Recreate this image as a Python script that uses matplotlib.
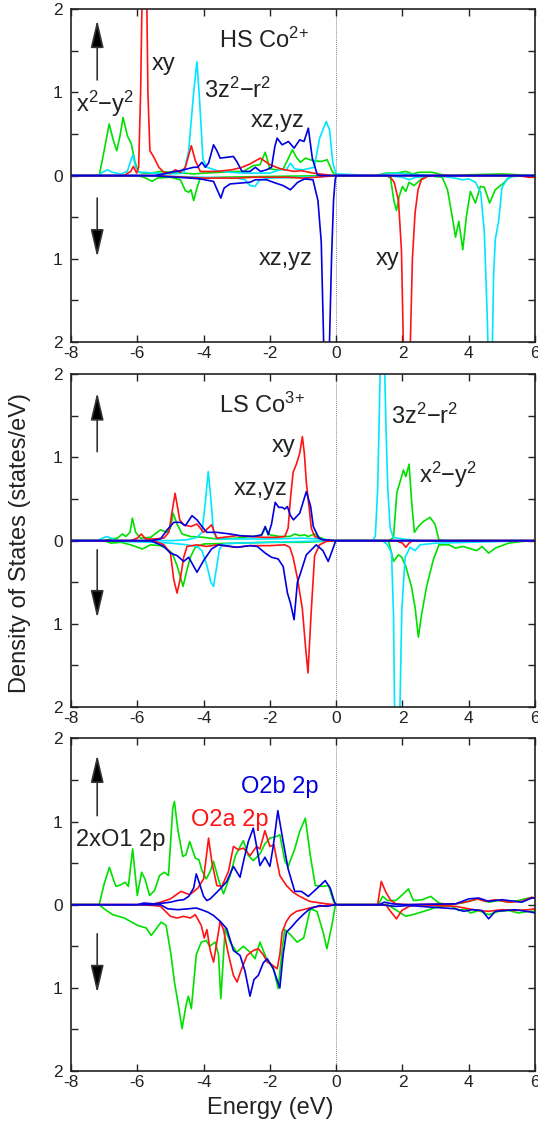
import numpy as np
import matplotlib
matplotlib.use('Agg')
import matplotlib.pyplot as plt
from matplotlib.ticker import MultipleLocator, FuncFormatter

plt.rcParams['font.family'] = ['Liberation Sans', 'DejaVu Sans']
plt.rcParams['mathtext.default'] = 'regular'
plt.rcParams['axes.unicode_minus'] = False

# ---- HS Co2+ : (energy eV, DOS) points, spin up positive, spin down negative
hs_x2y2_up = [(-8, 0), (-7.15, 0), (-7.0, 0.3), (-6.85, 0.62), (-6.72, 0.42), (-6.62, 0.3), (-6.52, 0.48),
              (-6.43, 0.70), (-6.3, 0.48), (-6.18, 0.38), (-6.08, 0.18), (-5.98, 0.05), (-5.85, 0.03),
              (-5.6, 0.03), (-5.3, 0.05), (-5.0, 0.04), (-4.6, 0.03), (-4.3, 0.02), (-4.0, 0.03), (-3.5, 0.04),
              (-3.0, 0.05), (-2.8, 0.05), (-2.5, 0.12), (-2.3, 0.13), (-2.14, 0.28), (-2.0, 0.08), (-1.8, 0.07),
              (-1.6, 0.08), (-1.45, 0.2), (-1.32, 0.31), (-1.2, 0.22), (-1.08, 0.16), (-0.93, 0.21), (-0.7, 0.18),
              (-0.45, 0.17), (-0.27, 0.19), (-0.12, 0.05), (0, 0), (1.2, 0), (1.5, 0.03), (1.8, 0.03), (2.1, 0.05),
              (2.3, 0.02), (2.5, 0.04), (2.9, 0.04), (3.2, 0.01), (3.5, 0), (4.0, 0.01), (5.0, 0.02), (6, 0)]
hs_x2y2_dn = [(-8, 0), (-6.0, 0), (-5.8, -0.02), (-5.55, -0.07), (-5.4, -0.03), (-5.0, -0.02), (-4.7, -0.05),
              (-4.55, -0.18), (-4.45, -0.2), (-4.38, -0.17), (-4.3, -0.3), (-4.2, -0.15), (-4.1, -0.03),
              (-3.5, -0.02), (-2.0, -0.01), (0, 0), (1.5, 0), (1.64, -0.03), (1.74, -0.3), (1.82, -0.42),
              (1.9, -0.25), (2.0, -0.13), (2.1, -0.19), (2.2, -0.08), (2.35, -0.12), (2.6, -0.03), (2.8, 0),
              (3.2, -0.02), (3.36, -0.17), (3.5, -0.49), (3.6, -0.74), (3.7, -0.55), (3.82, -0.89), (3.93, -0.49),
              (4.05, -0.19), (4.2, -0.33), (4.35, -0.13), (4.47, -0.14), (4.63, -0.33), (4.8, -0.17),
              (5.05, -0.09), (5.25, -0.01), (6, 0)]
hs_3z2_up = [(-8, 0), (-7.2, 0), (-7.05, 0.04), (-6.9, 0.07), (-6.75, 0.04), (-6.5, 0.02), (-6.3, 0.05),
             (-6.2, 0.18), (-6.13, 0.25), (-6.05, 0.1), (-5.95, 0.04), (-5.8, 0.04), (-5.5, 0.03), (-5.0, 0.02),
             (-4.6, 0.03), (-4.45, 0.3), (-4.3, 1.0), (-4.2, 1.37), (-4.12, 0.9), (-4.02, 0.2), (-3.9, 0.1),
             (-3.6, 0.06), (-3.2, 0.04), (-2.8, 0.03), (-2.4, 0.03), (-2.0, 0.03), (-1.7, 0.07), (-1.5, 0.07),
             (-1.38, 0.15), (-1.25, 0.08), (-1.0, 0.07), (-0.66, 0.1), (-0.5, 0.45), (-0.3, 0.65), (-0.2, 0.55),
             (-0.1, 0.15), (0, 0.02), (1.2, 0), (1.5, 0.02), (1.9, 0.03), (2.1, 0.02), (2.5, 0.01), (3, 0), (6, 0)]
hs_3z2_dn = [(-8, 0), (-6, 0), (-5.0, -0.01), (-4.0, -0.02), (-3.0, -0.03), (-2.75, -0.05), (-2.6, -0.12),
             (-2.45, -0.13), (-2.3, -0.05), (-2.0, -0.03), (-1.0, -0.02), (0, 0), (1.5, 0), (2.0, -0.02),
             (2.2, -0.05), (2.4, -0.02), (3.0, 0), (3.6, -0.03), (3.8, -0.05), (4.0, -0.04), (4.2, -0.08),
             (4.36, -0.2), (4.47, -0.68), (4.55, -1.6), (4.6, -2.3), (4.7, -2.3), (4.75, -1.2), (4.8, -0.77),
             (4.9, -0.55), (5.0, -0.15), (5.15, -0.04), (5.4, 0), (6, 0)]
hs_xy_up = [(-8, 0), (-6.4, 0), (-6.2, 0.05), (-6.12, 0.11), (-6.02, 0.03), (-5.96, 0.1), (-5.9, 1.0),
            (-5.85, 2.3), (-5.72, 2.3), (-5.68, 1.0), (-5.62, 0.3), (-5.5, 0.22), (-5.35, 0.1), (-5.2, 0.04),
            (-5.0, 0.03), (-4.85, 0.07), (-4.7, 0.04), (-4.55, 0.1), (-4.37, 0.36), (-4.25, 0.18), (-4.1, 0.05),
            (-3.9, 0.05), (-3.6, 0.05), (-3.14, 0.07), (-2.84, 0.1), (-2.6, 0.14), (-2.29, 0.21), (-1.99, 0.13),
            (-1.67, 0.08), (-1.27, 0.05), (-1.05, 0.06), (-0.7, 0.03), (-0.3, 0.01), (0, 0), (6, 0)]
hs_xy_dn = [(-8, 0), (-5.5, 0), (-5.0, -0.01), (-4.5, -0.02), (-4.0, -0.03), (-3.5, -0.03), (-3.0, -0.03),
            (-2.5, -0.02), (-2.0, -0.02), (-1.5, -0.02), (-1.0, -0.03), (-0.6, -0.02), (-0.3, -0.01), (0, 0),
            (1.6, 0), (1.75, -0.08), (1.88, -0.3), (1.97, -0.9), (2.04, -2.3), (2.22, -2.3), (2.3, -1.0),
            (2.38, -0.45), (2.47, -0.17), (2.57, -0.05), (2.8, 0), (5.5, 0), (5.8, -0.02), (6, -0.02)]
hs_xz_up = [(-8, 0), (-5.5, 0), (-5.2, 0.02), (-5.0, 0.04), (-4.7, 0.06), (-4.5, 0.08), (-4.3, 0.1),
            (-4.18, 0.1), (-4.05, 0.16), (-3.95, 0.1), (-3.85, 0.15), (-3.7, 0.37), (-3.6, 0.3), (-3.5, 0.21),
            (-3.3, 0.22), (-3.1, 0.23), (-3.0, 0.17), (-2.84, 0.05), (-2.6, 0.05), (-2.44, 0.1), (-2.28, 0.05),
            (-2.1, 0.07), (-1.95, 0.1), (-1.85, 0.35), (-1.78, 0.45), (-1.63, 0.37), (-1.44, 0.41),
            (-1.27, 0.33), (-1.1, 0.43), (-0.97, 0.41), (-0.84, 0.57), (-0.72, 0.21), (-0.57, 0.01),
            (-0.45, 0), (6, 0)]
hs_xz_dn = [(-8, 0), (-5.5, 0), (-5.2, -0.01), (-4.8, -0.02), (-4.4, -0.03), (-4.1, -0.04), (-3.7, -0.07),
            (-3.58, -0.18), (-3.48, -0.27), (-3.38, -0.15), (-3.2, -0.1), (-2.9, -0.09), (-2.6, -0.08),
            (-2.44, -0.05), (-2.1, -0.05), (-1.9, -0.08), (-1.6, -0.12), (-1.38, -0.17), (-1.16, -0.08),
            (-0.95, -0.04), (-0.7, -0.05), (-0.55, -0.3), (-0.45, -0.8), (-0.36, -2.3), (-0.22, -2.3),
            (-0.14, -1.0), (-0.08, -0.3), (-0.03, -0.05), (0, 0), (6, 0)]

# ---- LS Co3+
ls_x2y2_up = [(-8, 0), (-7.0, 0), (-6.8, 0.02), (-6.6, 0.03), (-6.45, 0.08), (-6.35, 0.05), (-6.22, 0.1),
              (-6.15, 0.27), (-6.05, 0.1), (-5.9, 0.03), (-5.6, 0.04), (-5.3, 0.13), (-5.1, 0.1), (-5.0, 0.15),
              (-4.92, 0.33), (-4.8, 0.2), (-4.65, 0.08), (-4.4, 0.05), (-4.0, 0.04), (-3.6, 0.02), (-3.0, 0.03),
              (-2.6, 0.05), (-2.25, 0.06), (-2.14, 0.15), (-2.0, 0.07), (-1.7, 0.05), (-1.4, 0.05),
              (-1.25, 0.08), (-1.1, 0.06), (-0.95, 0.07), (-0.85, 0.05), (-0.65, 0.08), (-0.5, 0.04),
              (-0.3, 0.01), (0, 0), (1.4, 0), (1.6, 0.0), (1.73, 0.04), (1.83, 0.58), (1.93, 0.71),
              (2.03, 0.85), (2.1, 0.77), (2.2, 0.92), (2.28, 0.45), (2.36, 0.1), (2.48, 0.17), (2.63, 0.23),
              (2.83, 0.28), (2.98, 0.2), (3.1, 0.01), (3.3, 0), (6, 0)]
ls_x2y2_dn = [(-8, 0), (-7.0, 0), (-6.8, -0.03), (-6.5, -0.02), (-6.2, -0.05), (-5.85, -0.1), (-5.6, -0.05),
              (-5.3, -0.06), (-5.1, -0.1), (-4.95, -0.15), (-4.8, -0.3), (-4.62, -0.55), (-4.5, -0.35),
              (-4.4, -0.2), (-4.25, -0.08), (-4.0, -0.04), (-3.0, -0.03), (-2.0, -0.02), (-1.0, -0.02), (0, 0),
              (1.45, 0), (1.58, 0), (1.73, -0.25), (1.88, -0.17), (1.98, -0.2), (2.1, -0.31), (2.27, -0.55),
              (2.38, -0.8), (2.48, -1.16), (2.58, -0.88), (2.73, -0.55), (2.93, -0.23), (3.1, -0.05),
              (3.4, -0.05), (3.6, -0.09), (3.82, -0.07), (4.0, -0.09), (4.24, -0.12), (4.4, -0.07),
              (4.6, -0.15), (4.8, -0.09), (5.2, -0.03), (5.6, -0.01), (6, 0)]
ls_3z2_up = [(-8, 0), (-7.2, 0), (-7.05, 0.03), (-6.92, 0.05), (-6.8, 0.03), (-6.6, 0), (-5.0, 0),
             (-4.5, 0.01), (-4.2, 0.04), (-4.05, 0.1), (-3.95, 0.45), (-3.86, 0.83), (-3.78, 0.5), (-3.7, 0.1),
             (-3.6, 0.02), (-2.0, 0.02), (-1.0, 0.03), (-0.5, 0.02), (0, 0), (1.1, 0), (1.18, 0.05),
             (1.25, 0.6), (1.3, 1.5), (1.34, 2.3), (1.45, 2.3), (1.5, 1.4), (1.56, 0.6), (1.63, 0.15),
             (1.72, 0.04), (2.0, 0.02), (2.5, 0), (6, 0)]
ls_3z2_dn = [(-8, 0), (-7.0, 0), (-6.5, -0.01), (-5.5, -0.02), (-5.0, -0.03), (-4.5, -0.05), (-4.2, -0.07),
             (-4.05, -0.12), (-3.9, -0.3), (-3.78, -0.5), (-3.7, -0.55), (-3.62, -0.35), (-3.52, -0.1),
             (-3.4, -0.04), (-3.0, -0.03), (-2.0, -0.02), (-1.0, -0.01), (0, 0), (1.4, 0), (1.55, -0.05),
             (1.67, -0.15), (1.73, -0.9), (1.77, -2.3), (1.91, -2.3), (1.98, -0.83), (2.08, -0.2),
             (2.23, -0.08), (2.38, -0.12), (2.53, -0.05), (3.0, -0.03), (4.0, -0.02), (5.0, -0.01), (6, 0)]
ls_xy_up = [(-8, 0), (-6.2, 0), (-6.0, 0.03), (-5.88, 0.08), (-5.75, 0.02), (-5.5, 0.02), (-5.2, 0.03),
            (-5.05, 0.1), (-4.95, 0.35), (-4.86, 0.57), (-4.72, 0.25), (-4.6, 0.19), (-4.38, 0.17), (-4.2, 0.2),
            (-4.0, 0.1), (-3.76, 0.19), (-3.6, 0.03), (-3.4, 0.04), (-3.0, 0.06), (-2.6, 0.05), (-2.2, 0.04),
            (-1.8, 0.04), (-1.55, 0.05), (-1.45, 0.15), (-1.38, 0.5), (-1.3, 0.82), (-1.2, 0.92), (-1.1, 1.05),
            (-1.02, 1.25), (-0.96, 1.05), (-0.9, 0.7), (-0.83, 0.45), (-0.75, 0.15), (-0.65, 0.05),
            (-0.4, 0.01), (0, 0), (6, 0)]
ls_xy_dn = [(-8, 0), (-5.5, 0), (-5.2, -0.05), (-5.0, -0.15), (-4.9, -0.47), (-4.8, -0.63), (-4.7, -0.45),
            (-4.6, -0.2), (-4.5, -0.07), (-4.2, -0.05), (-3.9, -0.07), (-3.6, -0.05), (-3.0, -0.08),
            (-2.6, -0.06), (-2.0, -0.06), (-1.55, -0.05), (-1.4, -0.08), (-1.3, -0.2), (-1.17, -0.45),
            (-1.02, -0.82), (-0.92, -1.3), (-0.85, -1.59), (-0.76, -0.9), (-0.65, -0.18), (-0.5, -0.05),
            (-0.3, -0.01), (0, 0), (1.8, 0), (2.0, -0.03), (2.1, -0.08), (2.2, -0.03), (2.3, 0), (6, 0)]
ls_xz_up = [(-8, 0), (-5.6, 0), (-5.3, 0.02), (-5.1, 0.13), (-4.9, 0.22), (-4.7, 0.22), (-4.55, 0.18),
            (-4.35, 0.3), (-4.2, 0.25), (-4.05, 0.17), (-3.9, 0.1), (-3.6, 0.1), (-3.2, 0.08), (-2.9, 0.06),
            (-2.5, 0.05), (-2.25, 0.07), (-2.14, 0.17), (-2.05, 0.07), (-1.95, 0.2), (-1.84, 0.46),
            (-1.73, 0.4), (-1.63, 0.4), (-1.55, 0.38), (-1.47, 0.41), (-1.38, 0.3), (-1.29, 0.25),
            (-1.1, 0.33), (-0.9, 0.59), (-0.77, 0.41), (-0.69, 0.17), (-0.52, 0.03), (-0.4, 0.01), (0, 0),
            (6, 0)]
ls_xz_dn = [(-8, 0), (-5.6, 0), (-5.2, -0.07), (-5.0, -0.15), (-4.8, -0.18), (-4.6, -0.25), (-4.45, -0.2),
            (-4.2, -0.38), (-4.0, -0.24), (-3.76, -0.1), (-3.55, -0.05), (-3.0, -0.08), (-2.6, -0.06),
            (-2.38, -0.07), (-2.14, -0.15), (-1.95, -0.2), (-1.75, -0.22), (-1.6, -0.31), (-1.47, -0.63),
            (-1.38, -0.75), (-1.27, -0.95), (-1.17, -0.5), (-1.1, -0.42), (-0.9, -0.17), (-0.6, -0.05),
            (-0.4, -0.12), (-0.24, -0.25), (-0.12, -0.12), (-0.03, -0.02), (0, 0), (6, 0)]

# ---- O 2p
o1_up = [(-8, 0), (-7.15, 0), (-7.0, 0.25), (-6.84, 0.45), (-6.72, 0.3), (-6.64, 0.22), (-6.49, 0.24),
         (-6.37, 0.27), (-6.27, 0.22), (-6.14, 0.67), (-6.0, 0.11), (-5.87, 0.39), (-5.76, 0.3),
         (-5.63, 0.11), (-5.48, 0.17), (-5.33, 0.35), (-5.18, 0.39), (-5.06, 0.35), (-4.93, 1.16),
         (-4.88, 1.24), (-4.78, 0.91), (-4.63, 0.58), (-4.53, 0.6), (-4.42, 0.76), (-4.25, 0.56),
         (-4.14, 0.54), (-4.05, 0.41), (-3.92, 0.31), (-3.8, 0.4), (-3.7, 0.52), (-3.55, 0.3),
         (-3.4, 0.13), (-3.2, 0.35), (-3.04, 0.59), (-2.8, 0.77), (-2.65, 0.59), (-2.5, 0.53),
         (-2.3, 0.61), (-2.15, 0.73), (-2.0, 0.8), (-1.8, 0.82), (-1.7, 0.84), (-1.55, 0.53),
         (-1.45, 0.46), (-1.25, 0.67), (-1.1, 0.88), (-0.93, 1.04), (-0.78, 0.59), (-0.63, 0.23),
         (-0.38, 0.22), (-0.23, 0.23), (-0.08, 0.04), (0, 0), (1.27, 0), (1.4, 0.1), (1.55, 0.05),
         (1.8, 0.05), (2.0, 0.12), (2.18, 0.19), (2.33, 0.05), (2.6, 0.06), (2.85, 0.1), (3.1, 0.02),
         (3.4, 0), (3.8, 0.02), (4.1, 0.05), (4.3, 0.07), (4.6, 0.03), (4.9, 0.05), (5.2, 0.03),
         (5.5, 0.05), (5.8, 0.08), (6, 0.08)]
o1_dn = [(-8, 0), (-7.15, 0), (-7.0, -0.05), (-6.74, -0.12), (-6.39, -0.16), (-5.99, -0.25), (-5.73, -0.28),
         (-5.58, -0.37), (-5.43, -0.29), (-5.28, -0.21), (-5.13, -0.25), (-4.98, -0.61), (-4.88, -0.93),
         (-4.76, -1.21), (-4.65, -1.49), (-4.53, -1.21), (-4.46, -1.1), (-4.37, -1.25), (-4.22, -0.6),
         (-4.07, -0.45), (-3.92, -0.43), (-3.82, -0.5), (-3.65, -0.45), (-3.55, -0.6), (-3.48, -1.13),
         (-3.35, -0.29), (-3.2, -0.45), (-3.0, -0.57), (-2.8, -0.5), (-2.6, -0.57), (-2.45, -0.65),
         (-2.3, -0.45), (-2.1, -0.65), (-1.9, -0.75), (-1.75, -1.01), (-1.62, -0.5), (-1.55, -0.3),
         (-1.38, -0.36), (-1.18, -0.45), (-0.98, -0.4), (-0.78, -0.05), (-0.58, -0.08), (-0.38, -0.35),
         (-0.28, -0.53), (-0.13, -0.25), (-0.03, -0.02), (0, 0), (1.55, 0), (1.75, -0.05), (2.1, -0.14),
         (2.4, -0.11), (2.8, -0.06), (3.1, -0.02), (3.5, -0.02), (3.7, -0.07), (3.9, -0.05), (4.05, -0.1),
         (4.3, -0.07), (4.6, -0.12), (4.9, -0.08), (5.2, -0.07), (5.5, -0.1), (5.8, -0.08), (6, -0.08)]
o2a_up = [(-8, 0), (-6.0, 0), (-5.5, 0.01), (-5.3, 0.03), (-5.0, 0.07), (-4.68, 0.16), (-4.42, 0.12),
          (-4.17, 0.2), (-4.0, 0.31), (-3.85, 0.8), (-3.75, 0.51), (-3.6, 0.23), (-3.45, 0.22),
          (-3.25, 0.4), (-3.1, 0.7), (-2.95, 0.66), (-2.8, 0.68), (-2.6, 0.59), (-2.4, 0.7), (-2.3, 0.67),
          (-2.15, 0.89), (-2.0, 0.7), (-1.88, 0.72), (-1.7, 0.35), (-1.5, 0.23), (-1.3, 0.15), (-1.1, 0.1),
          (-0.8, 0.04), (-0.3, 0.01), (0, 0), (1.25, 0), (1.36, 0.28), (1.5, 0.15), (1.65, 0.05),
          (1.8, 0.01), (2.2, 0), (3.6, 0.01), (4.0, 0.04), (4.25, 0.07), (4.5, 0.04), (4.8, 0.06),
          (5.2, 0.03), (5.6, 0.04), (5.9, 0.09), (6, 0.08)]
o2a_dn = [(-8, 0), (-6.0, 0), (-5.5, -0.01), (-5.3, -0.02), (-5.15, -0.08), (-5.0, -0.14), (-4.8, -0.16),
          (-4.6, -0.14), (-4.4, -0.16), (-4.25, -0.12), (-4.07, -0.25), (-3.98, -0.4), (-3.9, -0.3),
          (-3.8, -0.55), (-3.7, -0.69), (-3.6, -0.45), (-3.5, -0.2), (-3.4, -0.3), (-3.25, -0.6),
          (-3.1, -0.85), (-2.99, -0.93), (-2.88, -0.8), (-2.69, -0.61), (-2.5, -0.55), (-2.35, -0.53),
          (-2.2, -0.6), (-2.08, -0.69), (-1.95, -0.72), (-1.78, -0.77), (-1.7, -0.6), (-1.63, -0.33),
          (-1.5, -0.2), (-1.38, -0.13), (-1.2, -0.08), (-1.0, -0.06), (-0.7, -0.03), (-0.3, -0.01), (0, 0),
          (1.5, 0), (1.62, -0.07), (1.82, -0.17), (1.98, -0.07), (2.2, -0.02), (2.5, 0), (3.6, -0.02),
          (4.0, -0.05), (4.3, -0.07), (4.6, -0.08), (5.0, -0.06), (5.4, -0.07), (5.8, -0.06), (6, -0.05)]
o2b_up = [(-8, 0), (-6.0, 0), (-5.8, 0.02), (-5.5, 0.01), (-5.2, 0.02), (-5.0, 0.03), (-4.8, 0.05),
          (-4.6, 0.06), (-4.45, 0.1), (-4.3, 0.2), (-4.22, 0.37), (-4.12, 0.25), (-4.0, 0.1), (-3.9, 0.05),
          (-3.8, 0.07), (-3.5, 0.19), (-3.3, 0.28), (-3.1, 0.46), (-2.9, 0.33), (-2.78, 0.55),
          (-2.65, 0.76), (-2.5, 0.92), (-2.4, 0.7), (-2.3, 0.47), (-2.15, 0.57), (-2.0, 0.46),
          (-1.9, 0.7), (-1.76, 1.13), (-1.6, 0.76), (-1.45, 0.43), (-1.25, 0.16), (-1.05, 0.16),
          (-0.84, 0.1), (-0.54, 0.21), (-0.33, 0.29), (-0.18, 0.2), (-0.05, 0.03), (0, 0), (1.3, 0),
          (1.45, 0.03), (1.7, 0.01), (2.0, 0), (3.6, 0.01), (4.0, 0.07), (4.3, 0.08), (4.6, 0.04),
          (5.0, 0.06), (5.6, 0.03), (5.9, 0.08), (6, 0.08)]
o2b_dn = [(-8, 0), (-5.3, 0), (-5.08, -0.05), (-4.78, -0.06), (-4.48, -0.05), (-4.22, -0.04), (-4.07, -0.06),
          (-3.87, -0.09), (-3.7, -0.13), (-3.5, -0.2), (-3.3, -0.29), (-3.1, -0.55), (-2.9, -0.61),
          (-2.75, -0.8), (-2.6, -1.1), (-2.48, -0.9), (-2.35, -0.85), (-2.2, -0.7), (-2.08, -0.65),
          (-1.9, -0.77), (-1.7, -1.0), (-1.6, -0.6), (-1.5, -0.33), (-1.35, -0.27), (-1.2, -0.2),
          (-1.0, -0.12), (-0.8, -0.05), (-0.5, -0.01), (-0.3, -0.02), (0, 0), (1.3, 0), (1.8, -0.02),
          (2.2, -0.01), (3.6, -0.05), (3.85, -0.08), (4.1, -0.06), (4.4, -0.07), (4.6, -0.17),
          (4.8, -0.08), (5.4, -0.06), (5.9, -0.09), (6, -0.1)]

energy_ticks = [-8, -6, -4, -2, 0, 2, 4, 6]

GREEN = '#00e000'
CYAN = '#00e6ff'
RED = '#ff1414'
BLUE = '#0000e0'
TXT = '#222222'

panels = [
    dict(bottom=0.6963,
         curves=[(GREEN, hs_x2y2_up, hs_x2y2_dn), (CYAN, hs_3z2_up, hs_3z2_dn),
                 (RED, hs_xy_up, hs_xy_dn), (BLUE, hs_xz_up, hs_xz_dn)],
         labels=[('HS Co$^{2{+}}$', -3.53, 1.53, TXT), ('xy', -5.55, 1.27, TXT),
                 ('x$^2$\u2212y$^2$', -7.85, 0.77, TXT), ('3z$^2$\u2212r$^2$', -3.98, 0.93, TXT),
                 ('xz,yz', -2.59, 0.59, TXT), ('xz,yz', -2.35, -1.07, TXT), ('xy', 1.2, -1.07, TXT)],
         arrows=(1.15, 1.87, -0.27, -0.98)),
    dict(bottom=0.3721,
         curves=[(GREEN, ls_x2y2_up, ls_x2y2_dn), (CYAN, ls_3z2_up, ls_3z2_dn),
                 (RED, ls_xy_up, ls_xy_dn), (BLUE, ls_xz_up, ls_xz_dn)],
         labels=[('LS Co$^{3{+}}$', -3.53, 1.54, TXT), ('xy', -1.93, 1.07, TXT),
                 ('xz,yz', -3.1, 0.55, TXT), ('3z$^2$\u2212r$^2$', 1.64, 1.4, TXT),
                 ('x$^2$\u2212y$^2$', 2.51, 0.7, TXT)],
         arrows=(1.07, 1.78, -0.11, -0.93)),
    dict(bottom=0.0488,
         curves=[(GREEN, o1_up, o1_dn), (RED, o2a_up, o2a_dn), (BLUE, o2b_up, o2b_dn)],
         labels=[('2xO1 2p', -7.85, 0.7, TXT), ('O2a 2p', -4.38, 0.94, RED),
                 ('O2b 2p', -2.87, 1.34, BLUE)],
         arrows=(1.07, 1.8, -0.35, -1.06)),
]

fig = plt.figure(figsize=(5.38, 11.26), dpi=100)

for p in panels:
    ax = fig.add_axes([0.132, p['bottom'], 0.8625, 0.2955])
    ax.axvline(0, color='#888888', lw=0.7, ls=(0, (1, 1)), zorder=1)
    for color, up, dn in p['curves']:
        for pts in (up, dn):
            e, v = np.array(pts).T
            ax.plot(e, v, color=color, lw=1.2, zorder=2)
    for text, x, y, c in p['labels']:
        ax.text(x, y, text, color=c, fontsize=17, ha='left', va='baseline')
    # spin up / spin down arrows
    up0, up1, dn0, dn1 = p['arrows']
    for y0, y1 in ((up0, up1), (dn0, dn1)):
        ax.annotate('', xy=(-7.21, y1), xytext=(-7.21, y0),
                    arrowprops=dict(arrowstyle='-|>,head_length=0.85,head_width=0.2',
                                    mutation_scale=20, lw=1.2, ec='#333333', fc='black',
                                    shrinkA=0, shrinkB=0))
    ax.set_xlim(-8, 6)
    ax.set_ylim(-2, 2)
    ax.set_xticks(energy_ticks)
    ax.yaxis.set_major_locator(MultipleLocator(1))
    ax.yaxis.set_minor_locator(MultipleLocator(0.5))
    ax.yaxis.set_major_formatter(FuncFormatter(lambda v, pos: f'{abs(v):g}'))
    ax.tick_params(which='both', direction='in', top=True, right=True, length=5, width=1,
                   labelsize=12.5, colors=TXT)
    ax.tick_params(axis='y', pad=6)
    ax.tick_params(axis='x', pad=3)
    for s in ax.spines.values():
        s.set_linewidth(1.2)
        s.set_color(TXT)

fig.text(0.037, 0.518, 'Density of States (states/eV)', rotation=90, ha='center', va='center',
         fontsize=17, color=TXT)
fig.text(0.502, 0.016, 'Energy (eV)', ha='center', va='center', fontsize=17, color=TXT)

fig.savefig('out.png', dpi=100)
